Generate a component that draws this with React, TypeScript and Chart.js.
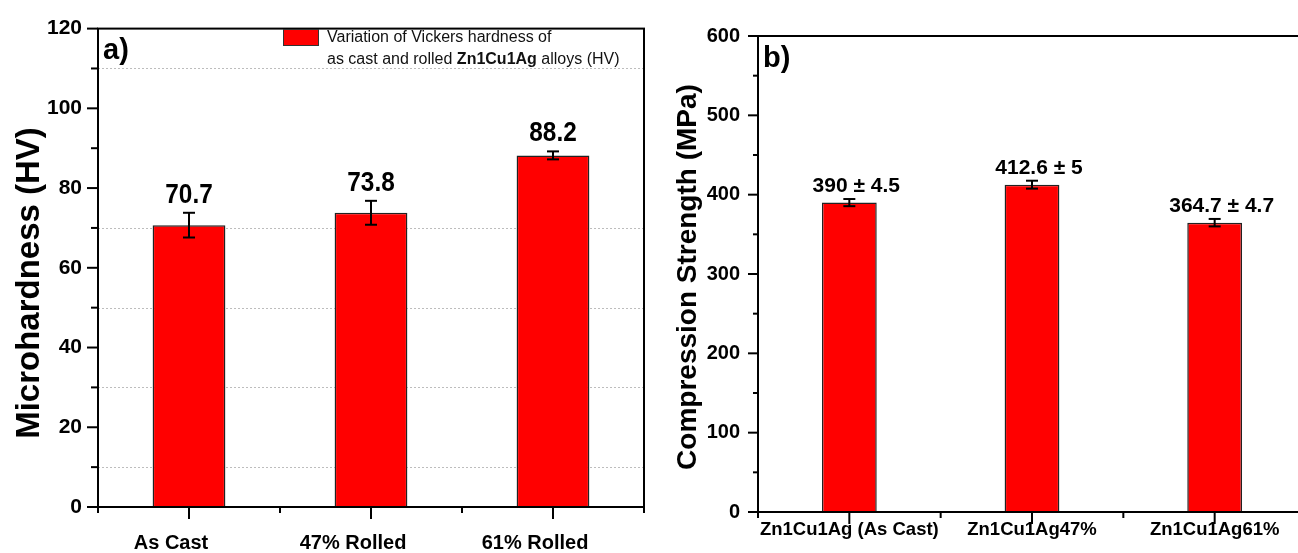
import React, { useEffect, useRef } from 'react';
import { Chart, registerables } from 'chart.js';

Chart.register(...registerables);

// ---------- data ----------
const hardCategories = ['As Cast', '47% Rolled', '61% Rolled'];
const hardValues = [70.7, 73.8, 88.2];
const hardErrors = [3.1, 3.0, 1.0];
const hardLabels = ['70.7', '73.8', '88.2'];
const hardGridValues = [10, 30, 50, 70, 110];
const hardTitle = 'Microhardness (HV)';
const legendLine1 = 'Variation of Vickers hardness of';
const legendLine2 = ['as cast and rolled ', 'Zn1Cu1Ag', ' alloys (HV)'];

const compCategories = ['Zn1Cu1Ag (As Cast)', 'Zn1Cu1Ag47%', 'Zn1Cu1Ag61%'];
const compValues = [390, 412.6, 364.7];
const compErrors = [4.5, 5, 4.7];
const compLabels = ['390 ± 4.5', '412.6 ± 5', '364.7 ± 4.7'];
const compTitle = 'Compression Strength (MPa)';

const FONT = '"Liberation Sans", Arial, Helvetica, sans-serif';

type Decor = {
  values: number[];
  errors: number[];
  labels: string[];
  labelFont: string;
  labelScaleX: number;
  labelGap: number;
  labelDx: number;
  cap: number;
  yMinorStep: number;
  yMajorStep: number;
  yMajorLen: number;
  yMinorLen: number;
  xMajorLen: number;
  xMinorLen: number;
  panel: string;
  panelX: number;
  panelY: number;
  title: string;
  titleFont: string;
  titleX: number;
  titleY: number;
  grid?: number[];
  legend?: boolean;
};

function makePlugin(d: Decor) {
  return {
    id: 'decor',
    beforeDatasetsDraw(chart: any) {
      if (!d.grid) return;
      const { ctx, chartArea: a, scales } = chart;
      ctx.save();
      ctx.strokeStyle = '#bdbdbd';
      ctx.lineWidth = 1;
      ctx.setLineDash([2, 2]);
      d.grid.forEach((v) => {
        const py = Math.round(scales.y.getPixelForValue(v)) + 0.5;
        ctx.beginPath();
        ctx.moveTo(a.left, py);
        ctx.lineTo(a.right, py);
        ctx.stroke();
      });
      ctx.restore();
    },
    afterDraw(chart: any) {
      const { ctx, chartArea: a, scales } = chart;
      const xs = scales.x;
      const ys = scales.y;
      const line = (x1: number, y1: number, x2: number, y2: number) => {
        ctx.beginPath();
        ctx.moveTo(x1, y1);
        ctx.lineTo(x2, y2);
        ctx.stroke();
      };
      ctx.save();
      ctx.strokeStyle = '#000';
      ctx.fillStyle = '#000';
      ctx.lineWidth = 2;
      // error bars and value labels
      d.values.forEach((v, i) => {
        const px = xs.getPixelForValue(i);
        const t = ys.getPixelForValue(v + d.errors[i]);
        const b = ys.getPixelForValue(v - d.errors[i]);
        line(px, t, px, b);
        line(px - d.cap, t, px + d.cap, t);
        line(px - d.cap, b, px + d.cap, b);
        ctx.save();
        ctx.font = d.labelFont;
        ctx.textAlign = 'center';
        ctx.textBaseline = 'alphabetic';
        ctx.translate(px + d.labelDx, t - d.labelGap);
        ctx.scale(d.labelScaleX, 1);
        ctx.fillText(d.labels[i], 0, 0);
        ctx.restore();
      });
      // frame
      ctx.lineWidth = 2;
      ctx.strokeRect(a.left, a.top, a.right - a.left, a.bottom - a.top);
      // y ticks
      for (let v = ys.min; v <= ys.max + 1e-9; v += d.yMinorStep) {
        const py = ys.getPixelForValue(v);
        const len = Math.abs(v % d.yMajorStep) < 1e-9 ? d.yMajorLen : d.yMinorLen;
        line(a.left - len, py, a.left, py);
      }
      // x ticks
      const n = d.values.length;
      const w = (a.right - a.left) / n;
      for (let k = 0; k <= n; k++) {
        line(a.left + k * w, a.bottom, a.left + k * w, a.bottom + d.xMinorLen);
      }
      for (let i = 0; i < n; i++) {
        const px = xs.getPixelForValue(i);
        line(px, a.bottom, px, a.bottom + d.xMajorLen);
      }
      // panel label
      ctx.font = `bold 29px ${FONT}`;
      ctx.textAlign = 'left';
      ctx.textBaseline = 'alphabetic';
      ctx.fillText(d.panel, d.panelX, d.panelY);
      // axis title
      ctx.save();
      ctx.translate(d.titleX, d.titleY);
      ctx.rotate(-Math.PI / 2);
      ctx.font = d.titleFont;
      ctx.textAlign = 'center';
      ctx.textBaseline = 'middle';
      ctx.fillText(d.title, 0, 0);
      ctx.restore();
      // legend
      if (d.legend) {
        ctx.fillStyle = '#ff0000';
        ctx.fillRect(283, 29, 36, 17);
        ctx.lineWidth = 1;
        ctx.strokeStyle = '#333';
        ctx.strokeRect(283.5, 29.5, 35, 16);
        ctx.fillStyle = '#111';
        ctx.textBaseline = 'middle';
        ctx.font = `16px ${FONT}`;
        ctx.fillText(legendLine1, 327, 38);
        let lx = 327;
        legendLine2.forEach((s, i) => {
          ctx.font = i === 1 ? `bold 16px ${FONT}` : `16px ${FONT}`;
          ctx.fillText(s, lx, 60);
          lx += ctx.measureText(s).width;
        });
      }
      ctx.restore();
    },
  };
}

function HardnessChart() {
  const ref = useRef<HTMLCanvasElement>(null);
  useEffect(() => {
    const plugin = makePlugin({
      values: hardValues,
      errors: hardErrors,
      labels: hardLabels,
      labelFont: `bold 28px ${FONT}`,
      labelScaleX: 0.87,
      labelGap: 10,
      labelDx: 0,
      cap: 6,
      yMinorStep: 10,
      yMajorStep: 20,
      yMajorLen: 11,
      yMinorLen: 7,
      xMajorLen: 12,
      xMinorLen: 6,
      panel: 'a)',
      panelX: 103,
      panelY: 59,
      title: hardTitle,
      titleFont: `bold 33px ${FONT}`,
      titleX: 30,
      titleY: 283,
      grid: hardGridValues,
      legend: true,
    });
    const chart = new Chart(ref.current as HTMLCanvasElement, {
      type: 'bar',
      data: {
        labels: hardCategories,
        datasets: [
          {
            data: hardValues,
            backgroundColor: '#ff0000',
            borderColor: '#222',
            borderWidth: 1.5,
            categoryPercentage: 1,
            barPercentage: 0.4,
          },
        ],
      },
      options: {
        animation: false,
        responsive: false,
        maintainAspectRatio: false,
        layout: { padding: { top: 24, right: 16, left: 0, bottom: 0 } },
        plugins: { legend: { display: false }, tooltip: { enabled: false } },
        scales: {
          x: {
            type: 'category',
            offset: true,
            grid: { display: false, drawTicks: false },
            border: { display: false },
            ticks: {
              color: '#000',
              font: { family: FONT, size: 20, weight: 'bold' },
              padding: 24,
              labelOffset: -18,
              maxRotation: 0,
              autoSkip: false,
            },
            afterFit: (s: any) => {
              s.height = 46;
            },
          },
          y: {
            min: 0,
            max: 120,
            grid: { display: false, drawTicks: false },
            border: { display: false },
            ticks: {
              stepSize: 10,
              color: '#000',
              font: { family: FONT, size: 21, weight: 'bold' },
              padding: 16,
              callback: (v: any) => (Number(v) % 20 === 0 ? String(v) : ''),
            },
            afterFit: (s: any) => {
              s.width = 98;
            },
          },
        },
      } as any,
      plugins: [plugin],
    });
    return () => chart.destroy();
  }, []);
  return (
    <canvas
      ref={ref}
      width={660}
      height={553}
      style={{ position: 'absolute', left: 0, top: 0, width: 660, height: 553 }}
    />
  );
}

function CompressionChart() {
  const ref = useRef<HTMLCanvasElement>(null);
  useEffect(() => {
    const plugin = makePlugin({
      values: compValues,
      errors: compErrors,
      labels: compLabels,
      labelFont: `bold 21px ${FONT}`,
      labelScaleX: 1,
      labelGap: 7,
      labelDx: 7,
      cap: 6,
      yMinorStep: 50,
      yMajorStep: 100,
      yMajorLen: 10,
      yMinorLen: 5,
      xMajorLen: 12,
      xMinorLen: 6,
      panel: 'b)',
      panelX: 103,
      panelY: 67,
      title: compTitle,
      titleFont: `bold 28px ${FONT}`,
      titleX: 28,
      titleY: 277,
    });
    const chart = new Chart(ref.current as HTMLCanvasElement, {
      type: 'bar',
      data: {
        labels: compCategories,
        datasets: [
          {
            data: compValues,
            backgroundColor: '#ff0000',
            borderColor: '#222',
            borderWidth: 1.5,
            categoryPercentage: 1,
            barPercentage: 0.3,
          },
        ],
      },
      options: {
        animation: false,
        responsive: false,
        maintainAspectRatio: false,
        layout: { padding: { top: 36, right: 14, left: 0, bottom: 0 } },
        plugins: { legend: { display: false }, tooltip: { enabled: false } },
        scales: {
          x: {
            type: 'category',
            offset: true,
            grid: { display: false, drawTicks: false },
            border: { display: false },
            ticks: {
              color: '#000',
              font: { family: FONT, size: 18.5, weight: 'bold' },
              padding: 7,
              maxRotation: 0,
              autoSkip: false,
            },
            afterFit: (s: any) => {
              s.height = 41;
            },
          },
          y: {
            min: 0,
            max: 600,
            grid: { display: false, drawTicks: false },
            border: { display: false },
            ticks: {
              stepSize: 50,
              color: '#000',
              font: { family: FONT, size: 20, weight: 'bold' },
              padding: 18,
              callback: (v: any) => (Number(v) % 100 === 0 ? String(v) : ''),
            },
            afterFit: (s: any) => {
              s.width = 98;
            },
          },
        },
      } as any,
      plugins: [plugin],
    });
    return () => chart.destroy();
  }, []);
  return (
    <canvas
      ref={ref}
      width={660}
      height={553}
      style={{ position: 'absolute', left: 660, top: 0, width: 660, height: 553 }}
    />
  );
}

export default function App() {
  return (
    <div
      style={{
        position: 'absolute',
        left: 0,
        top: 0,
        width: 1298,
        height: 553,
        overflow: 'hidden',
        background: '#fff',
      }}
    >
      <HardnessChart />
      <CompressionChart />
    </div>
  );
}
